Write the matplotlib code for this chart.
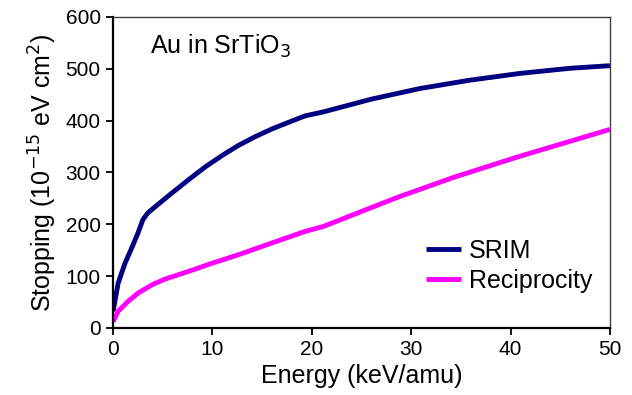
import matplotlib
matplotlib.use('Agg')
import matplotlib.pyplot as plt

plt.rcParams['font.family'] = ['Liberation Sans', 'DejaVu Sans']

# SRIM stopping
srim_e = [0, 0.5, 1.2, 1.8, 2.5, 3.0, 3.5, 4.5, 5.9, 7.6, 9.3, 11.0, 12.6, 14.3,
          16.0, 17.7, 19.3, 21.2, 25.9, 30.9, 35.9, 40.9, 46.0, 50]
srim_s = [32, 86, 125, 151, 183, 209, 222, 238, 260, 286, 311, 333, 352, 369,
          384, 397, 409, 417, 441, 462, 478, 491, 501, 506]

# reciprocity stopping
rec_e = [0, 0.5, 1.5, 2.5, 3.9, 5.2, 7.6, 10, 12.6, 16.0, 19.3, 21.2, 28.5,
         34.2, 40.9, 50]
rec_s = [12, 32, 51, 67, 83, 94, 109, 125, 141, 164, 186, 196, 251, 290, 331, 383]

fig = plt.figure(figsize=(6.32, 3.95), dpi=100)
ax = fig.add_axes([0.179, 0.170, 0.786, 0.787])

ax.plot(srim_e, srim_s, color='#000080', lw=3.5, label='SRIM', solid_capstyle='butt')
ax.plot(rec_e, rec_s, color='#FF00FF', lw=3.5, label='Reciprocity', solid_capstyle='butt')

ax.set_xlim(0, 50)
ax.set_ylim(0, 600)
ax.set_xticks([0, 10, 20, 30, 40, 50])
ax.set_yticks([0, 100, 200, 300, 400, 500, 600])
ax.tick_params(labelsize=15, direction='out', length=5, width=1.3, pad=4,
               top=False, right=False)
for s in ['left', 'bottom']:
    ax.spines[s].set_linewidth(1.6)
for s in ['top', 'right']:
    ax.spines[s].set_linewidth(1.0)
    ax.spines[s].set_color('#404040')

ax.set_xlabel('Energy (keV/amu)', fontsize=18, labelpad=3)
ax.set_ylabel('Stopping (10$^{-15}$ eV cm$^{2}$)', fontsize=18, labelpad=5)

ax.text(0.075, 0.905, 'Au in SrTiO$_3$', transform=ax.transAxes, fontsize=18,
        va='center', ha='left')

ax.legend(loc='lower right', bbox_to_anchor=(1.01, 0.04), frameon=False,
          fontsize=18, handlelength=1.4, handletextpad=0.3, labelspacing=0.25)

fig.savefig('out.png', dpi=100)
